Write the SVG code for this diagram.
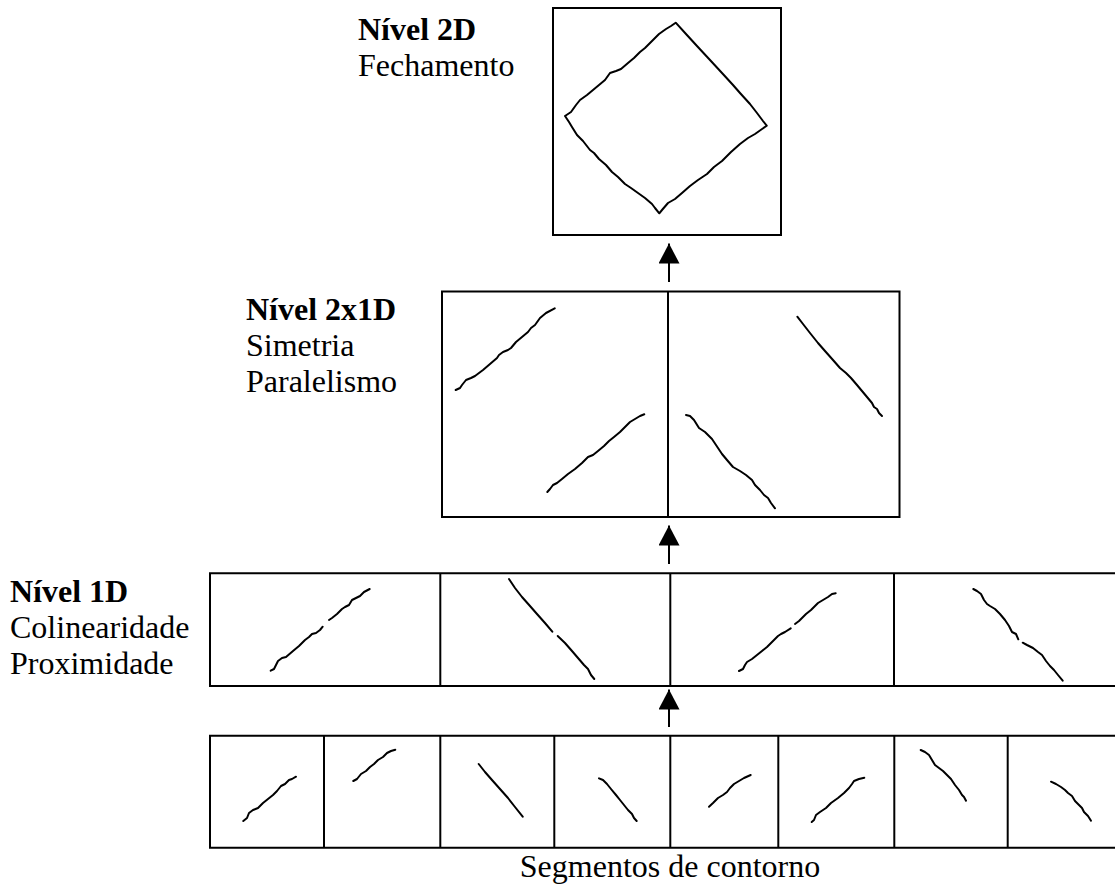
<svg xmlns="http://www.w3.org/2000/svg" width="1115" height="886" viewBox="0 0 1115 886">
<style>
.box{fill:none;stroke:#000;stroke-width:2}
.div{stroke:#000;stroke-width:2}
.sk{fill:none;stroke:#000;stroke-width:2;stroke-linejoin:round;stroke-linecap:round}
.t{font-family:"Liberation Serif","Times New Roman",serif;font-size:32px;fill:#000}
.b{font-weight:bold}
.ar{stroke:#000;stroke-width:2}
</style>
<defs>
<marker id="ah" viewBox="0 0 20 21" refX="20" refY="10.5" markerWidth="20" markerHeight="21" markerUnits="userSpaceOnUse" orient="auto">
<path d="M0,0 L20,10.5 L0,21 Z" fill="#000"/>
</marker>
</defs>
<rect width="1115" height="886" fill="#fff"/>

<g id="label-2d">
<text class="t b" x="358" y="39.5">Nível 2D</text>
<text class="t" x="358" y="75.5">Fechamento</text>
</g>
<g id="label-2x1d">
<text class="t b" x="246" y="319.5">Nível 2x1D</text>
<text class="t" x="246" y="355.5">Simetria</text>
<text class="t" x="246" y="391.5">Paralelismo</text>
</g>
<g id="label-1d">
<text class="t b" x="10" y="601.5">Nível 1D</text>
<text class="t" x="10" y="637.5">Colinearidade</text>
<text class="t" x="10" y="673.5">Proximidade</text>
</g>

<g id="node-2d">
<rect class="box" x="553" y="8" width="228" height="227"/>
<path class="sk" d="M675.7,22.7 L686,34 L697,46 L710,60 L722,73 L733,85 L740,93 L750,104 L757,113 L763,121 L766.7,125.7 L755,134 L748,138 L740,144 L731,152 L722,161 L714,167 L707,174 L698,180 L690,186 L682,193 L675,199 L668,203 L662,210 L659.3,213.3 L655,208 L652,204 L645,198 L638,193 L631,188 L625,184 L618,177 L612,172 L606,165 L599,159 L594,153 L590,150 L583,141 L577,135 L572,127 L569,122 L565,116 L571,112 L576,105 L580,100 L587,95 L593,90 L599,85 L605,80 L610,73 L616,71 L621,69 L628,63 L634,58 L640,52 L645,48 L652,41 L659,34 L666,29 L671,26 Z"/>
</g>

<g id="node-2x1d">
<rect class="box" x="442" y="291.5" width="457.5" height="225.5"/>
<line class="div" x1="668" y1="291.5" x2="668" y2="517"/>
<path class="sk" d="M455.7,390 L460,388 L462,385 L466,380 L471,378 L475,376 L483,370 L490,364 L497,358 L499,355 L503,352 L508,350 L511,348 L516,342 L522,337 L528,332 L531,328 L535,325 L540,318 L546,313 L554.7,308.3"/>
<path class="sk" d="M547.3,492 L550,489 L553,485 L557,483 L562,479 L568,474 L575,469 L582,463 L588,457 L593,455 L598,451 L604,446 L609,441 L614,437 L620,432 L624,428 L630,422 L635,419 L640,416 L644.3,414.3"/>
<path class="sk" d="M686,415 L690,416 L694,420 L699,428 L705,432 L712,439 L716,445 L722,454 L727,460 L733,467 L740,471 L746,475 L752,480 L755,485 L760,490 L764,495 L768,498 L771,503 L775,508.3"/>
<path class="sk" d="M797.3,316.7 L803,324 L810,333 L818,343 L825,351 L833,360 L840,368 L846,373 L851,378 L857,385 L862,391 L867,397 L872,403 L874,407 L877,409 L879,413 L882,416"/>
</g>

<g id="node-1d">
<path class="box" d="M1120,573.3 L210,573.3 L210,686 L1120,686"/>
<line class="div" x1="440.3" y1="573.3" x2="440.3" y2="686"/>
<line class="div" x1="670.3" y1="573.3" x2="670.3" y2="686"/>
<line class="div" x1="894" y1="573.3" x2="894" y2="686"/>
<path class="sk" d="M270.7,670.7 L274,669 L276,665 L278,661 L282,658 L286,657 L293,651 L299,646 L305,640 L309,637 L312,634 L316,633 L320,630 L322.7,626.7"/>
<path class="sk" d="M329,620 L332,618 L337,614 L342,609 L345,607 L349,605 L352,600 L356,598 L360,596 L364,592 L369.7,589"/>
<path class="sk" d="M509,579 L515,588 L522,597 L530,606 L537,614 L545,623 L552.3,631.7"/>
<path class="sk" d="M557.7,636 L565,643 L572,651 L578,658 L584,665 L588,669 L591,675 L594.3,679"/>
<path class="sk" d="M739,671 L743,669 L745,665 L747,662 L752,659 L757,655 L762,651 L767,647 L774,640 L778,636 L781,634 L785,632 L790.7,628.3"/>
<path class="sk" d="M795,624 L799,621 L802,618 L806,614 L811,610 L814,607 L818,603 L823,600 L828,597 L832,594 L835.7,593.3"/>
<path class="sk" d="M973.3,589 L977,591 L981,594 L984,600 L987,604 L990,606 L995,609 L1000,614 L1005,620 L1009,626 L1012,632 L1016,634 L1018.3,639.3"/>
<path class="sk" d="M1022.7,642.7 L1027,645 L1033,648 L1038,652 L1042,655 L1046,661 L1050,666 L1054,670 L1058,675 L1062.7,680.7"/>
</g>

<g id="node-segments">
<path class="box" d="M1120,735.7 L210,735.7 L210,847.7 L1120,847.7"/>
<line class="div" x1="324" y1="735.7" x2="324" y2="847.7"/>
<line class="div" x1="440.3" y1="735.7" x2="440.3" y2="847.7"/>
<line class="div" x1="554.3" y1="735.7" x2="554.3" y2="847.7"/>
<line class="div" x1="670.3" y1="735.7" x2="670.3" y2="847.7"/>
<line class="div" x1="778.3" y1="735.7" x2="778.3" y2="847.7"/>
<line class="div" x1="894.3" y1="735.7" x2="894.3" y2="847.7"/>
<line class="div" x1="1007.7" y1="735.7" x2="1007.7" y2="847.7"/>
<path class="sk" d="M243.3,821 L247,818 L249,813 L253,810 L258,808 L263,803 L268,799 L273,795 L277,791 L281,786 L285,784 L289,780 L292,779 L296,776.7"/>
<path class="sk" d="M353.3,781 L357,779 L361,774 L366,771 L370,767 L374,764 L378,760 L383,757 L387,753 L391,751 L395.3,749.7"/>
<path class="sk" d="M478.7,764 L485,772 L492,780 L500,789 L508,798 L515,807 L522.7,816.7"/>
<path class="sk" d="M599,778.3 L603,780 L607,784 L611,789 L616,795 L620,800 L624,805 L628,810 L632,814 L634,818 L636.7,821"/>
<path class="sk" d="M709,806.7 L713,803 L718,798 L723,795 L727,792 L730,788 L734,784 L739,781 L744,778 L750.7,775"/>
<path class="sk" d="M811.7,822 L814,820 L816,815 L820,812 L826,808 L831,803 L838,798 L844,793 L849,788 L852,784 L854,781 L859,779 L864.3,777.7"/>
<path class="sk" d="M920.7,750 L925,752 L929,755 L932,760 L935,765 L939,768 L943,771 L947,775 L951,779 L955,785 L959,790 L962,795 L964,797 L966,800.7"/>
<path class="sk" d="M1051,781.7 L1056,784 L1061,787 L1065,790 L1068,793 L1072,796 L1075,801 L1079,805 L1082,808 L1084,812 L1088,816 L1091,820.7"/>
<text class="t" x="670" y="877" text-anchor="middle">Segmentos de contorno</text>
</g>

<g id="connectors">
<line class="ar" x1="669" y1="282" x2="669" y2="243.5" marker-end="url(#ah)"/>
<line class="ar" x1="669" y1="564" x2="669" y2="525.5" marker-end="url(#ah)"/>
<line class="ar" x1="669" y1="727" x2="669" y2="689.5" marker-end="url(#ah)"/>
</g>
</svg>
